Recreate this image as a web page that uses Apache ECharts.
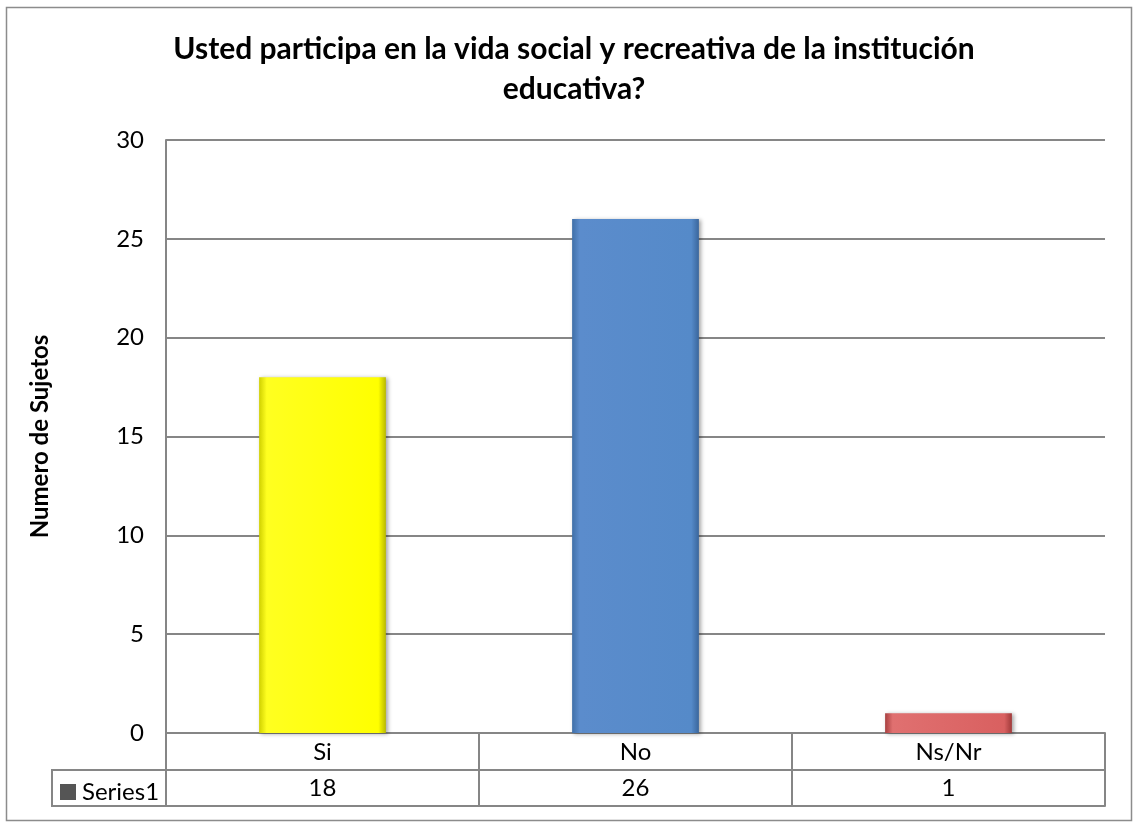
<!DOCTYPE html>
<html>
<head>
<meta charset="utf-8">
<script src="https://cdn.jsdelivr.net/npm/echarts@6/dist/echarts.min.js"></script>
<style>html,body{margin:0;padding:0;background:#fff}#c{width:1133px;height:824px}</style>
</head>
<body>
<div id="c"></div>
<script>
var titleText = 'Usted participa en la vida social y recreativa de la institución\neducativa?';
var yAxisName = 'Numero de Sujetos';
var categories = ['Si', 'No', 'Ns/Nr'];
var seriesName = 'Series1';
var values = [18, 26, 1];
var yMin = 0, yMax = 30, yStep = 5;

var barColors = [
  ['#d0d000', '#ffff20', '#ffff00', '#b8b800'],
  ['#3f6fa8', '#5b8ccc', '#558ac9', '#3a669c'],
  ['#a84040', '#e07070', '#d96060', '#a03a3a']
];
var FONT = 'Lato, "Liberation Sans", sans-serif';

var chart = echarts.init(document.getElementById('c'), null, {renderer: 'canvas'});
var data = values.map(function (v, i) {
  var c = barColors[i];
  return {
    value: v,
    itemStyle: {
      color: new echarts.graphic.LinearGradient(0, 0, 1, 0, [
        {offset: 0, color: c[0]}, {offset: 0.06, color: c[1]},
        {offset: 0.94, color: c[2]}, {offset: 1, color: c[3]}
      ]),
      shadowColor: 'rgba(0,0,0,0.35)', shadowBlur: 4, shadowOffsetX: 2, shadowOffsetY: 1
    }
  };
});

chart.setOption({
  animation: false,
  backgroundColor: '#fff',
  title: {
    text: titleText, left: 569, textAlign: 'center', top: 24,
    textStyle: {fontFamily: FONT, fontWeight: 'bold', fontSize: 30, lineHeight: 40, color: '#000'}
  },
  legend: {
    data: [{name: seriesName, icon: 'rect', itemStyle: {color: '#555'}}],
    left: 55, top: 775, itemWidth: 16, itemHeight: 16, itemGap: 4,
    textStyle: {fontFamily: FONT, fontSize: 24, color: '#000', padding: [0, 0, 0, 1]},
    selectedMode: false
  },
  grid: {left: 166, right: 28, top: 140, bottom: 91, containLabel: false},
  xAxis: [
    {
      type: 'category', data: categories, position: 'bottom',
      axisLine: {show: true, lineStyle: {color: '#868686', width: 2}},
      axisTick: {show: true, interval: 0, length: 73, lineStyle: {color: '#868686', width: 2}},
      axisLabel: {margin: 7, fontFamily: FONT, fontSize: 24, color: '#000'}
    },
    {
      type: 'category', data: values.map(String), position: 'bottom', offset: 37,
      axisLine: {show: true, lineStyle: {color: '#868686', width: 2}},
      axisTick: {show: false},
      axisLabel: {margin: 6, fontFamily: FONT, fontSize: 24, color: '#000'}
    },
    {
      type: 'category', data: categories, position: 'bottom', offset: 73,
      axisLine: {show: true, lineStyle: {color: '#868686', width: 2}},
      axisTick: {show: false}, axisLabel: {show: false}
    }
  ],
  yAxis: {
    type: 'value', min: yMin, max: yMax, interval: yStep,
    name: yAxisName, nameLocation: 'middle', nameGap: 114, nameRotate: 90,
    nameTextStyle: {fontFamily: FONT, fontWeight: 'bold', fontSize: 24, color: '#000'},
    axisLine: {show: true, lineStyle: {color: '#868686', width: 2}},
    axisTick: {show: false},
    axisLabel: {margin: 22, fontFamily: FONT, fontSize: 24, color: '#000'},
    splitLine: {show: true, lineStyle: {color: '#868686', width: 2}}
  },
  series: [{
    name: seriesName, type: 'bar', xAxisIndex: 0, data: data, barWidth: '40.5%'
  }],
  graphic: [
    {type: 'rect', shape: {x: 6.5, y: 7.5, width: 1125, height: 813}, style: {fill: 'none', stroke: '#8c8c8c', lineWidth: 1.5}, silent: true, z: -1},
    {type: 'polyline', shape: {points: [[166, 770], [52, 770], [52, 806], [166, 806]]}, style: {fill: 'none', stroke: '#868686', lineWidth: 2}, silent: true}
  ]
});
</script>
</body>
</html>
